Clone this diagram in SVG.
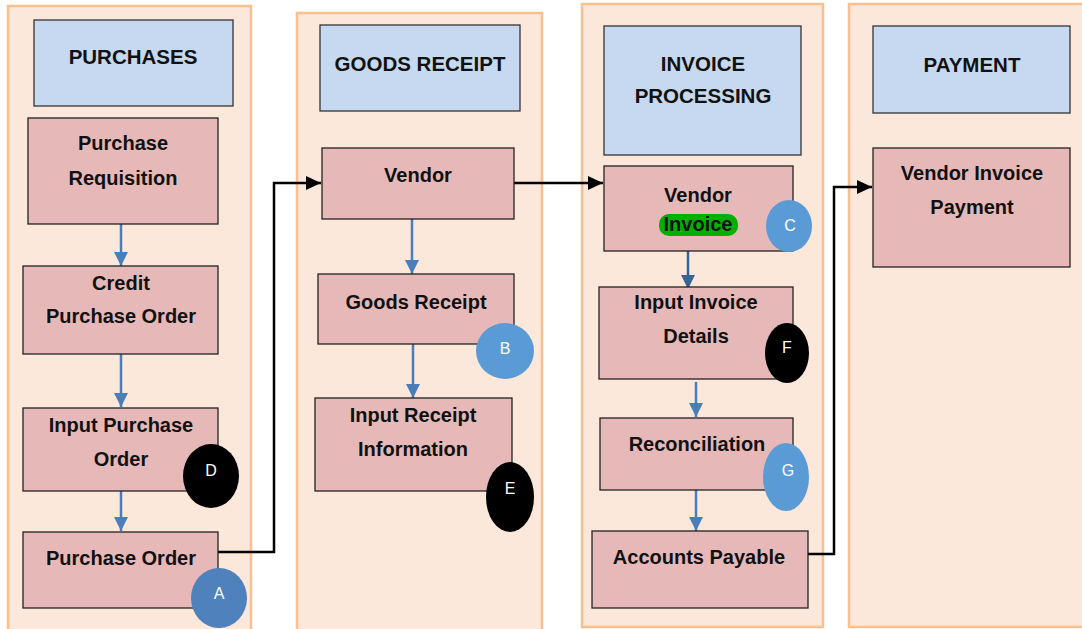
<svg xmlns="http://www.w3.org/2000/svg" width="1082" height="629" viewBox="0 0 1082 629">
<defs>
<style>
.lane{fill:#FCE8DA;stroke:#F9BF8F;stroke-width:2.5}
.hdr{fill:#C6D9F0;stroke:#333;stroke-width:1.3}
.node{fill:#E6B9B8;stroke:#222;stroke-width:1.3}
.t{font-family:"Liberation Sans",Arial,sans-serif;font-weight:bold;font-size:20px;fill:#111;text-anchor:middle}
.th{font-family:"Liberation Sans",Arial,sans-serif;font-weight:bold;font-size:20.5px;fill:#111;text-anchor:middle}
.lt{font-family:"Liberation Sans",Arial,sans-serif;font-size:16px;fill:#fff;text-anchor:middle;dominant-baseline:central}
.blk{fill:none;stroke:#000;stroke-width:2.5}
.blu{fill:none;stroke:#4A7EBB;stroke-width:2.5}
</style>
<marker id="ah" markerUnits="userSpaceOnUse" markerWidth="16" markerHeight="14" refX="15" refY="7" orient="auto">
<path d="M0,0 L15,7 L0,14 Z" fill="#000"/>
</marker>
<marker id="bh" markerUnits="userSpaceOnUse" markerWidth="16" markerHeight="16" refX="14" refY="8" orient="auto">
<path d="M0,1 L14,8 L0,15 Z" fill="#4A7EBB"/>
</marker>
<marker id="dh" markerUnits="userSpaceOnUse" markerWidth="16" markerHeight="16" refX="14" refY="8" orient="auto">
<path d="M0,1 L14,8 L0,15 Z" fill="#3B6496"/>
</marker>
</defs>

<g id="lanes">
<rect class="lane" x="8" y="6" width="243" height="640"/>
<rect class="lane" x="297" y="13" width="245" height="640"/>
<rect class="lane" x="582" y="4" width="241" height="623"/>
<rect class="lane" x="849" y="4" width="250" height="623"/>
</g>

<g id="hdr-purchases">
<rect class="hdr" x="34" y="20" width="199" height="86"/>
<text class="th" x="133" y="64">PURCHASES</text>
</g>
<g id="hdr-goods">
<rect class="hdr" x="320" y="25" width="200" height="86"/>
<text class="th" x="420" y="71">GOODS RECEIPT</text>
</g>
<g id="hdr-invoice">
<rect class="hdr" x="604" y="26" width="197" height="129"/>
<text class="th" x="703" y="71">INVOICE</text>
<text class="th" x="703" y="103">PROCESSING</text>
</g>
<g id="hdr-payment">
<rect class="hdr" x="873" y="26" width="197" height="87"/>
<text class="th" x="972" y="72">PAYMENT</text>
</g>

<g id="connectors">
<path class="blk" d="M218,552 H274 V183 H321" marker-end="url(#ah)"/>
<path class="blk" d="M514,183 H603" marker-end="url(#ah)"/>
<path class="blk" d="M808,554 H834 V187 H872" marker-end="url(#ah)"/>
<path class="blu" d="M121,219 V266" marker-end="url(#bh)"/>
<path class="blu" d="M121,353 V407" marker-end="url(#bh)"/>
<path class="blu" d="M121,491 V531" marker-end="url(#bh)"/>
<path class="blu" d="M412,219 V274" marker-end="url(#bh)"/>
<path class="blu" d="M413,344 V398" marker-end="url(#bh)"/>
<path fill="none" stroke="#3B6496" stroke-width="2.5" d="M688,251 V289" marker-end="url(#dh)"/>
<path class="blu" d="M696,382 V417" marker-end="url(#bh)"/>
<path class="blu" d="M696,490 V531" marker-end="url(#bh)"/>
</g>

<g id="purchase-requisition">
<rect class="node" x="28" y="118" width="190" height="106"/>
<text class="t" x="123" y="150">Purchase</text>
<text class="t" x="123" y="185">Requisition</text>
</g>
<g id="credit-po">
<rect class="node" x="23" y="266" width="195" height="88"/>
<text class="t" x="121" y="290">Credit</text>
<text class="t" x="121" y="323">Purchase Order</text>
</g>
<g id="input-po">
<rect class="node" x="23" y="408" width="195" height="83"/>
<text class="t" x="121" y="432">Input Purchase</text>
<text class="t" x="121" y="466">Order</text>
<ellipse cx="211" cy="476" rx="28" ry="32" fill="#000"/>
<text class="lt" x="211" y="470">D</text>
</g>
<g id="purchase-order">
<rect class="node" x="23" y="532" width="195" height="76"/>
<text class="t" x="121" y="565">Purchase Order</text>
<ellipse cx="219" cy="598" rx="28" ry="30" fill="#4F81BD"/>
<text class="lt" x="219" y="593">A</text>
</g>

<g id="vendor">
<rect class="node" x="322" y="148" width="192" height="71"/>
<text class="t" x="418" y="182">Vendor</text>
</g>
<g id="goods-receipt">
<rect class="node" x="318" y="274" width="196" height="70"/>
<text class="t" x="416" y="309">Goods Receipt</text>
<ellipse cx="505" cy="351" rx="29" ry="28" fill="#5B9BD5"/>
<text class="lt" x="505" y="348">B</text>
</g>
<g id="input-receipt">
<rect class="node" x="315" y="398" width="197" height="93"/>
<text class="t" x="413" y="422">Input Receipt</text>
<text class="t" x="413" y="456">Information</text>
<ellipse cx="510" cy="497" rx="24" ry="35" fill="#000"/>
<text class="lt" x="510" y="488">E</text>
</g>

<g id="vendor-invoice">
<rect class="node" x="604" y="166" width="189" height="85"/>
<text class="t" x="698" y="202">Vendor</text>
<rect x="659" y="214" width="79" height="22" rx="10" fill="#00B000"/>
<text class="t" x="698" y="231">Invoice</text>
<ellipse cx="789" cy="226" rx="23" ry="26" fill="#5B9BD5"/>
<text class="lt" x="790" y="225">C</text>
</g>
<g id="input-invoice">
<rect class="node" x="599" y="287" width="194" height="92"/>
<text class="t" x="696" y="309">Input Invoice</text>
<text class="t" x="696" y="343">Details</text>
<ellipse cx="787" cy="353" rx="22" ry="30" fill="#000"/>
<text class="lt" x="787" y="347">F</text>
</g>
<g id="reconciliation">
<rect class="node" x="600" y="418" width="193" height="72"/>
<text class="t" x="697" y="451">Reconciliation</text>
<ellipse cx="786" cy="477" rx="23" ry="34" fill="#5B9BD5"/>
<text class="lt" x="788" y="470">G</text>
</g>
<g id="accounts-payable">
<rect class="node" x="592" y="531" width="216" height="77"/>
<text class="t" x="699" y="564">Accounts Payable</text>
</g>

<g id="vendor-invoice-payment">
<rect class="node" x="873" y="148" width="197" height="119"/>
<text class="t" x="972" y="180">Vendor Invoice</text>
<text class="t" x="972" y="214">Payment</text>
</g>
</svg>
